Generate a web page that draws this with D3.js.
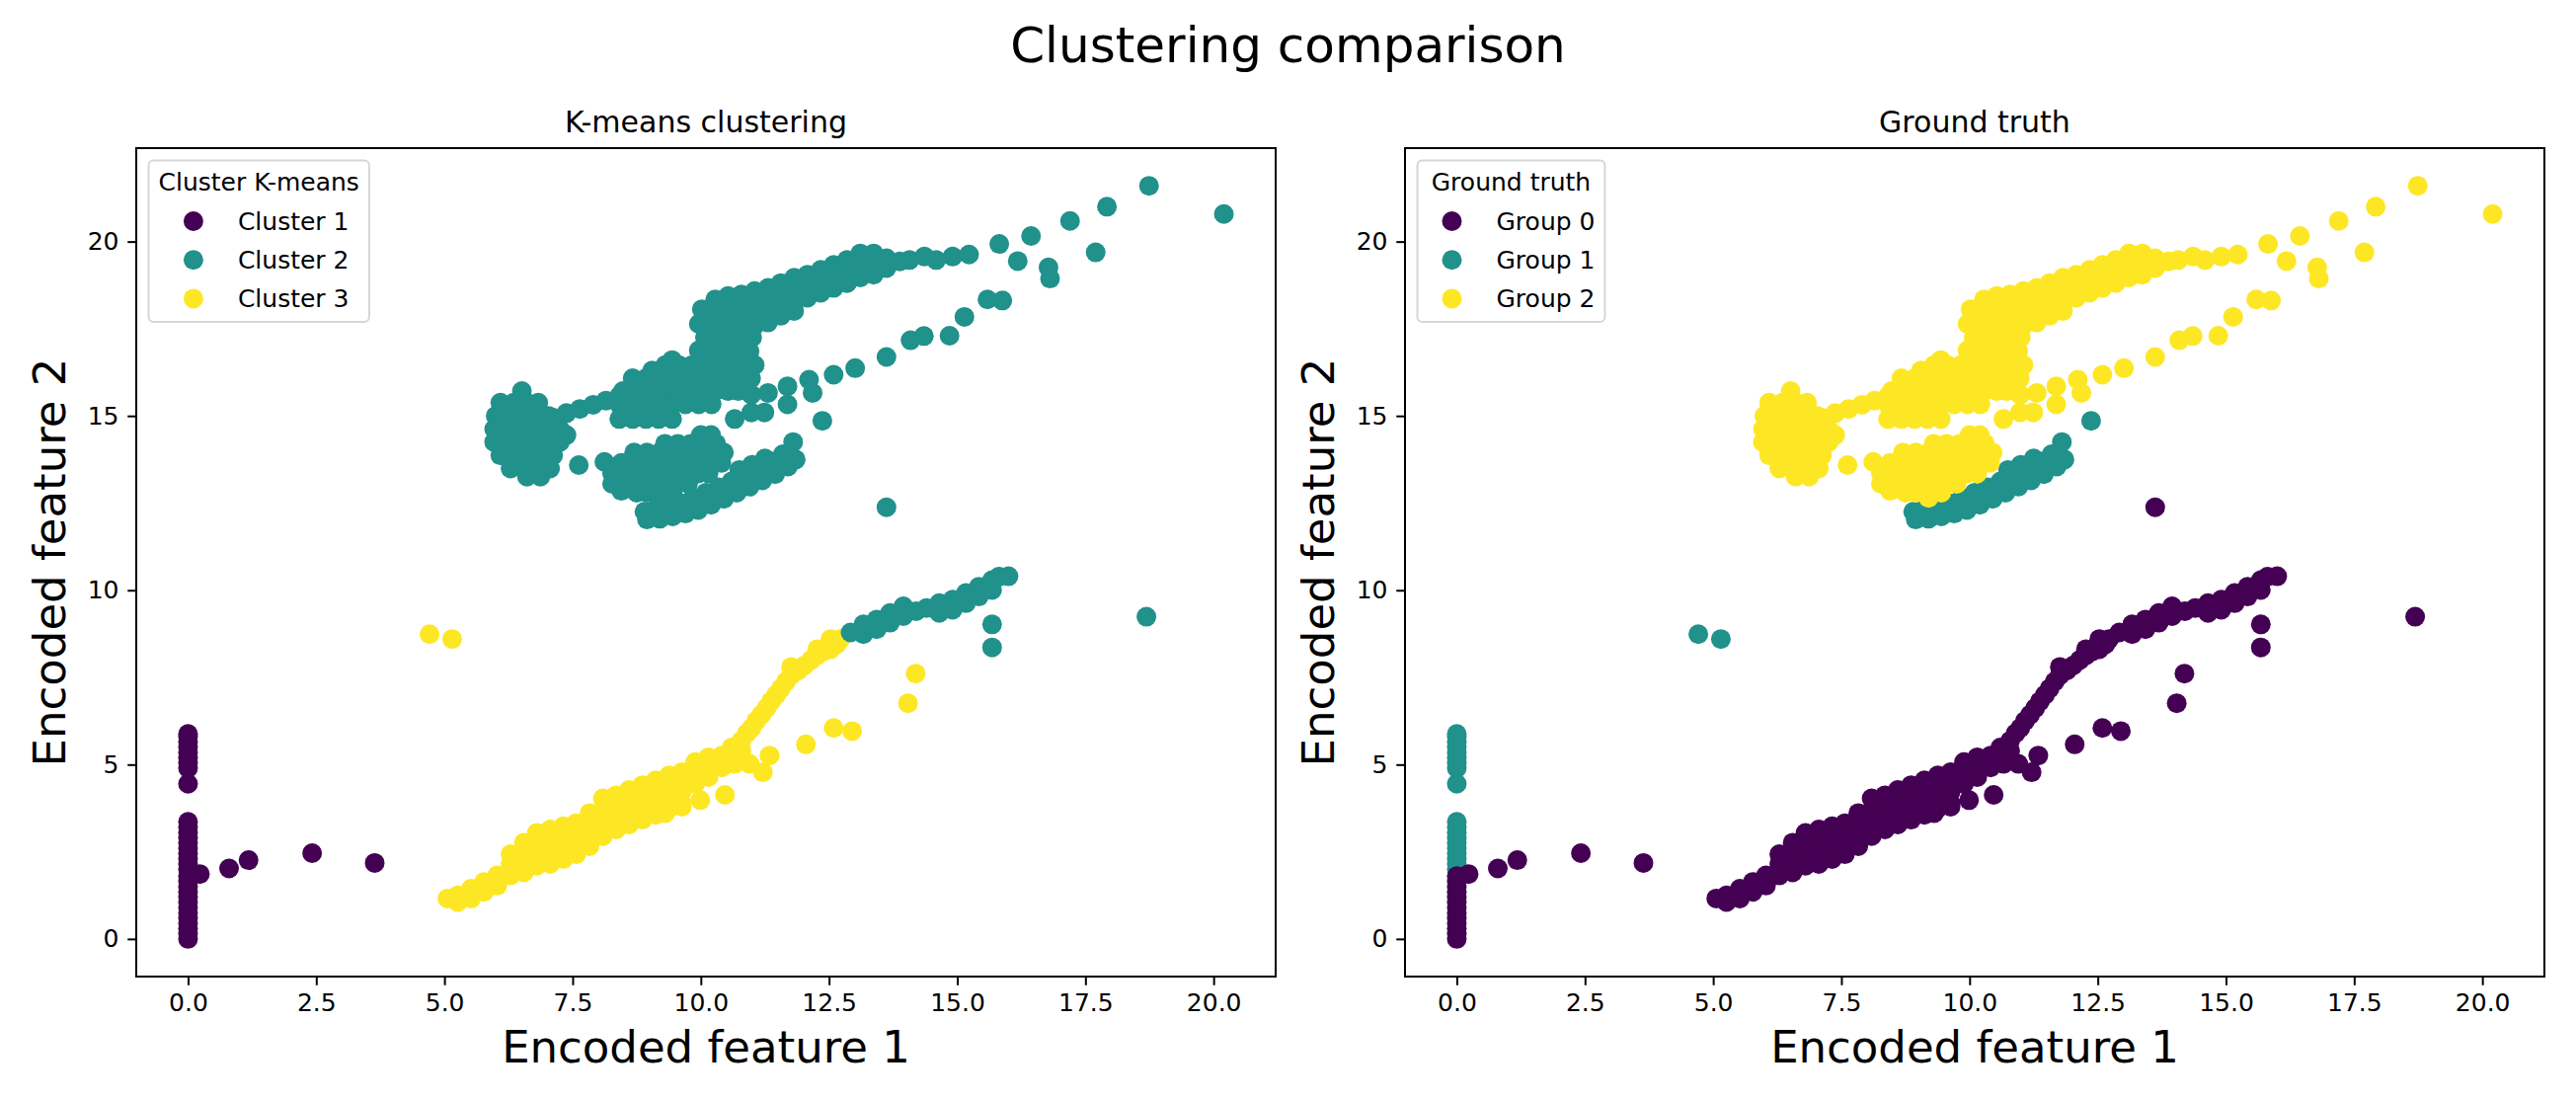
<!DOCTYPE html>
<html>
<head>
<meta charset="utf-8">
<script src="https://cdn.jsdelivr.net/npm/d3@7"></script>
<style>
  body { margin: 0; background: #fff; }
  svg { display: block; font-family: "DejaVu Sans", sans-serif; }
</style>
</head>
<body>
<svg id="chart" width="2609" height="1114"></svg>
<script>
// ---- data: [encoded feature 1, encoded feature 2] ----

// vertical column at x = 0
var columnUpper = [[0,4.45],[0,4.9],[0,5.05],[0,5.2],[0,5.35],[0,5.5],[0,5.65],[0,5.8],[0,5.88]];
var columnMid = [[0,2.0],[0,2.15],[0,2.3],[0,2.45],[0,2.6],[0,2.75],[0,2.9],[0,3.05],[0,3.2],[0,3.36]];
var columnLow = [[0,0.0],[0,0.15],[0,0.3],[0,0.45],[0,0.6],[0,0.75],[0,0.9],[0,1.05],[0,1.2],[0,1.35],[0,1.5],[0,1.65],[0,1.8]];
var originTrail = [[0.23,1.86],[0.8,2.02],[1.18,2.26],[2.42,2.46],[3.64,2.18]];
var farPair = [[4.71,8.74],[5.15,8.6]];

// lower diagonal band
var lowerBandYellow = [
  [5.06,1.16],[5.26,1.06],[5.26,1.25],[5.52,1.16],[5.52,1.44],[5.77,1.35],[5.77,1.63],[6.03,1.53],[6.03,1.82],
  [6.29,1.82],[6.29,2.15],[6.29,2.43],
  [6.55,1.91],[6.55,2.24],[6.55,2.57],[6.55,2.76],
  [6.80,2.10],[6.80,2.43],[6.80,2.76],[6.80,3.04],
  [7.06,2.15],[7.06,2.48],[7.06,2.81],[7.06,3.14],
  [7.32,2.29],[7.32,2.62],[7.32,2.95],[7.32,3.23],
  [7.57,2.43],[7.57,2.76],[7.57,3.04],[7.57,3.32],
  [7.83,2.66],[7.83,2.99],[7.83,3.30],[7.83,3.61],
  [8.09,2.95],[8.09,3.32],[8.09,3.70],[8.09,4.03],
  [8.35,3.14],[8.35,3.47],[8.35,3.80],[8.35,4.12],
  [8.60,3.28],[8.60,3.61],[8.60,3.94],[8.60,4.27],
  [8.86,3.42],[8.86,3.75],[8.86,4.08],[8.86,4.41],
  [9.12,3.56],[9.12,3.89],[9.12,4.22],[9.12,4.55],
  [9.38,3.75],[9.38,4.08],[9.38,4.41],[9.38,4.69],
  [9.63,3.89],[9.63,4.22],[9.63,4.50],[9.63,4.78],
  [9.89,4.45],[9.89,4.78],[9.89,5.07],
  [10.15,4.64],[10.15,4.97],[10.15,5.21],
  [10.41,4.92],[10.41,5.26],[10.60,5.21],[10.60,5.49],[10.79,5.40],[10.79,5.68],[10.90,5.90],
  [10.99,6.05],[11.08,6.25],[11.18,6.43],[11.28,6.62],[11.37,6.81],[11.47,7.0],[11.56,7.18],
  [11.66,7.38],[11.76,7.56],[11.76,7.80],[11.90,7.70],[12.02,7.84],[12.15,8.0],[12.27,8.13],
  [12.27,8.31],[12.40,8.25],[12.53,8.31],[12.53,8.60],[12.65,8.45],[12.72,8.60]
];
var lowerBandStrays = [
  [9.31,3.61],[9.63,3.79],[9.99,3.98],[10.47,4.13],[10.66,5.02],[10.95,5.02],[11.21,4.78],
  [11.34,5.26],[12.05,5.58],[12.59,6.05],[12.95,5.96],[14.04,6.76],[14.19,7.61]
];
var lowerBandTeal = [
  [12.92,8.79],[13.17,9.02],[13.17,8.74],[13.43,9.16],[13.43,8.88],[13.69,9.35],[13.69,9.07],
  [13.95,9.54],[13.95,9.26],[14.20,9.40],[14.40,9.49],[14.65,9.63],[14.65,9.35],[14.91,9.73],
  [14.91,9.44],[15.17,9.92],[15.17,9.63],[15.42,10.10],[15.42,9.82],[15.68,10.29],[15.68,10.01],
  [15.81,10.39],[16.0,10.4],[15.68,9.02],[15.68,8.36],[18.69,9.24]
];
var loneOutlier = [[13.62,12.38]];

// upper structure
var upperStrip = [
  [8.95,12.03],[9.2,12.05],[9.45,12.12],[9.7,12.2],[9.95,12.3],[10.2,12.45],[10.45,12.62],
  [10.7,12.8],[10.95,12.97],[11.2,13.15],[11.45,13.33],[11.7,13.55],[11.85,13.75],
  [8.9,12.25],[9.1,12.3],[9.35,12.4],[9.6,12.5],[9.85,12.65],[10.1,12.8],[10.35,12.95],
  [10.6,13.12],[10.85,13.3],[11.1,13.5],[11.35,13.7],[11.6,13.9],[11.8,14.25],
  [10.75,13.45],[11.0,13.6],[11.25,13.78],[12.37,14.86]
];
var lowerBlob = [
  [7.62,13.59],[8.12,13.68],
  [10.0,14.45],[10.2,14.45],
  [9.3,14.2],[9.55,14.2],[9.8,14.2],[10.05,14.2],[10.3,14.2],
  [8.7,13.95],[8.95,13.95],[9.2,13.95],[9.45,13.95],[9.7,13.95],[9.95,13.95],[10.2,13.95],[10.45,13.95],
  [8.45,13.65],[8.7,13.65],[8.95,13.65],[9.2,13.65],[9.45,13.65],[9.7,13.65],[9.95,13.65],[10.2,13.65],[10.4,13.65],
  [8.27,13.35],[8.45,13.35],[8.7,13.35],[8.95,13.35],[9.2,13.35],[9.45,13.35],[9.7,13.35],[9.95,13.35],[10.15,13.35],
  [8.27,13.05],[8.5,13.05],[8.75,13.05],[9.0,13.05],[9.25,13.05],[9.5,13.05],[9.75,13.05],
  [8.45,12.85],[8.75,12.8],[8.95,12.8],[9.2,12.8],[9.45,12.8],[9.2,12.65]
];
var leftBlob = [
  [6.51,15.71],
  [6.09,15.38],[6.35,15.38],[6.61,15.38],[6.83,15.38],
  [6.00,15.0],[6.26,15.0],[6.51,15.0],[6.77,15.0],[7.03,15.0],
  [5.97,14.62],[6.22,14.62],[6.48,14.62],[6.74,14.62],[7.00,14.62],[7.25,14.62],
  [5.97,14.25],[6.22,14.25],[6.48,14.25],[6.74,14.25],[7.00,14.25],[7.25,14.25],[7.38,14.45],
  [6.09,13.87],[6.35,13.87],[6.61,13.87],[6.87,13.87],[7.12,13.87],
  [6.29,13.49],[6.54,13.49],[6.80,13.49],[7.06,13.49],
  [6.61,13.26],[6.87,13.26]
];
var arm = [[7.12,14.95],[7.38,15.08],[7.64,15.20],[7.90,15.32],[8.15,15.44],[8.41,15.57]];
var midBlob = [
  [9.44,16.6],[9.05,16.3],
  [9.31,16.46],[9.57,16.46],[9.83,16.46],[10.08,16.46],[10.34,16.46],[10.60,16.46],[10.86,16.46],[11.05,16.46],
  [8.67,16.08],[8.93,16.08],[9.18,16.08],[9.44,16.08],[9.70,16.08],[9.96,16.08],[10.21,16.08],[10.47,16.08],[10.73,16.08],[10.98,16.08],
  [8.48,15.71],[8.73,15.71],[8.99,15.71],[9.25,15.71],[9.50,15.71],[9.76,15.71],[10.02,15.71],[10.28,15.71],[10.53,15.71],[10.73,15.71],
  [8.41,15.33],[8.67,15.33],[8.93,15.33],[9.18,15.33],[9.44,15.33],[9.70,15.33],[9.96,15.33],[10.21,15.33],
  [8.41,14.91],[8.67,14.91],[8.93,14.91],[9.18,14.91],[9.44,14.91]
];
var neck = [
  [9.96,16.88],[10.21,16.88],[10.47,16.88],[10.73,16.88],[10.95,16.85],
  [10.08,17.26],[10.34,17.26],[10.60,17.26],[10.86,17.26],[11.0,17.25],
  [9.96,17.64],[10.21,17.64],[10.47,17.64],[10.73,17.64],[10.98,17.64]
];
var upperBand = [
  [10.02,18.06],[10.02,17.73],
  [10.28,18.34],[10.28,18.01],[10.28,17.68],[10.28,17.35],
  [10.53,18.44],[10.53,18.11],[10.53,17.78],[10.53,17.45],
  [10.79,18.48],[10.79,18.15],[10.79,17.82],[10.79,17.50],
  [11.05,18.58],[11.05,18.25],[11.05,17.92],[11.05,17.59],
  [11.31,18.67],[11.31,18.34],[11.31,18.01],[11.31,17.68],
  [11.56,18.81],[11.56,18.48],[11.56,18.16],[11.56,17.87],
  [11.82,18.96],[11.82,18.63],[11.82,18.30],[11.82,18.01],
  [12.08,19.05],[12.08,18.72],[12.08,18.39],
  [12.34,19.19],[12.34,18.86],[12.34,18.53],
  [12.59,19.33],[12.59,19.00],[12.59,18.67],
  [12.85,19.47],[12.85,19.14],[12.85,18.81],
  [13.11,19.66],[13.11,19.33],[13.11,18.97],
  [13.37,19.66],[13.37,19.33],[13.37,19.05],
  [13.62,19.52],[13.62,19.24],
  [13.88,19.43],[14.07,19.47],[14.36,19.57],[14.59,19.47],[14.91,19.57],[15.23,19.63]
];
var dottedTrail = [
  [10.66,14.91],[10.985,15.10],[11.24,15.10],[10.985,15.61],[11.31,15.66],[11.69,15.85],[11.69,15.33],
  [12.11,16.04],[12.18,15.66],[12.59,16.18],[13.01,16.37],[13.62,16.69],[14.09,17.17],[14.35,17.29],
  [14.85,17.30],[15.14,17.84],[15.59,18.34],[15.88,18.31],
  [15.82,19.93],[16.18,19.44],[16.44,20.16],[16.78,19.26],[16.81,18.94],[17.20,20.59],
  [17.70,19.69],[17.92,21.0],[18.74,21.6],[20.2,20.79]
];

// labels of each piece: k-means cluster index and ground-truth group index
var pieces = [
  {pts: columnUpper, kmeans: 0, truth: 1},
  {pts: columnMid, kmeans: 0, truth: 1},
  {pts: columnLow, kmeans: 0, truth: 0},
  {pts: originTrail, kmeans: 0, truth: 0},
  {pts: farPair, kmeans: 2, truth: 1},
  {pts: lowerBandYellow, kmeans: 2, truth: 0},
  {pts: lowerBandStrays, kmeans: 2, truth: 0},
  {pts: lowerBandTeal, kmeans: 1, truth: 0},
  {pts: loneOutlier, kmeans: 1, truth: 0},
  {pts: upperStrip, kmeans: 1, truth: 1},
  {pts: lowerBlob, kmeans: 1, truth: 2},
  {pts: leftBlob, kmeans: 1, truth: 2},
  {pts: arm, kmeans: 1, truth: 2},
  {pts: midBlob, kmeans: 1, truth: 2},
  {pts: neck, kmeans: 1, truth: 2},
  {pts: upperBand, kmeans: 1, truth: 2},
  {pts: dottedTrail, kmeans: 1, truth: 2}
];

var kmeansNames = ["Cluster 1", "Cluster 2", "Cluster 3"];
var truthNames = ["Group 0", "Group 1", "Group 2"];
var xTicks = [0, 2.5, 5, 7.5, 10, 12.5, 15, 17.5, 20];
var yTicks = [0, 5, 10, 15, 20];
var colors = ["#440154", "#21918c", "#fde725"];

// ---- layout ----
var svg = d3.select("#chart");
var plotTop = 150, plotW = 1154, plotH = 839;
var font = "DejaVu Sans";

var points = [];
pieces.forEach(function (p) {
  p.pts.forEach(function (d) {
    points.push({x: d[0], y: d[1], kmeans: p.kmeans, truth: p.truth});
  });
});

// matplotlib style 5% margins
function padded(ext) {
  var m = (ext[1] - ext[0]) * 0.05;
  return [ext[0] - m, ext[1] + m];
}
var xDomain = padded(d3.extent(points, function (d) { return d.x; }));
var yDomain = padded(d3.extent(points, function (d) { return d.y; }));

svg.append("rect").attr("width", 2609).attr("height", 1114).attr("fill", "#fff");

svg.append("text")
  .attr("x", 1304.5).attr("y", 63)
  .attr("text-anchor", "middle")
  .attr("font-family", font).attr("font-size", 50)
  .text("Clustering comparison");

function drawPanel(left, key, title, legendTitle, names) {
  var g = svg.append("g").attr("transform", "translate(" + left + "," + plotTop + ")");
  var x = d3.scaleLinear().domain(xDomain).range([0, plotW]);
  var y = d3.scaleLinear().domain(yDomain).range([plotH, 0]);

  g.append("g").selectAll("circle")
    .data(points)
    .join("circle")
    .attr("cx", function (d) { return x(d.x); })
    .attr("cy", function (d) { return y(d.y); })
    .attr("r", 10)
    .attr("fill", function (d) { return colors[d[key]]; });

  var xAxis = d3.axisBottom(x).tickValues(xTicks).tickFormat(d3.format(".1f"))
    .tickSize(8.75).tickPadding(8.75);
  var yAxis = d3.axisLeft(y).tickValues(yTicks).tickFormat(d3.format("d"))
    .tickSize(8.75).tickPadding(8.75);

  function style(s) {
    s.attr("font-family", font).attr("font-size", 25);
    s.select(".domain").remove();
    s.selectAll(".tick line").attr("stroke", "#000").attr("stroke-width", 2);
    s.selectAll(".tick text").attr("fill", "#000");
  }
  g.append("g").attr("transform", "translate(0," + plotH + ")").call(xAxis).call(style);
  g.append("g").call(yAxis).call(style);

  g.append("rect")
    .attr("width", plotW).attr("height", plotH)
    .attr("fill", "none").attr("stroke", "#000").attr("stroke-width", 2);

  g.append("text")
    .attr("x", plotW / 2).attr("y", -16)
    .attr("text-anchor", "middle")
    .attr("font-family", font).attr("font-size", 30)
    .text(title);

  g.append("text")
    .attr("x", plotW / 2).attr("y", 1076 - plotTop)
    .attr("text-anchor", "middle")
    .attr("font-family", font).attr("font-size", 45)
    .text("Encoded feature 1");

  g.append("text")
    .attr("transform", "translate(" + (66 - 138) + "," + (plotH / 2) + ") rotate(-90)")
    .attr("text-anchor", "middle")
    .attr("font-family", font).attr("font-size", 45)
    .text("Encoded feature 2");

  // legend
  var lg = g.append("g").attr("transform", "translate(12.5,12.5)");
  var frame = lg.append("rect")
    .attr("rx", 5).attr("ry", 5)
    .attr("fill", "#fff").attr("fill-opacity", 0.8)
    .attr("stroke", "#d6d6d6").attr("stroke-width", 2);
  var tt = lg.append("text")
    .attr("y", 30.8)
    .attr("font-family", font).attr("font-size", 25)
    .text(legendTitle);
  var rows = lg.selectAll("g.entry")
    .data(names)
    .join("g")
    .attr("class", "entry");
  rows.append("circle").attr("cx", 25).attr("r", 10)
    .attr("fill", function (d, i) { return colors[i]; });
  var labels = rows.append("text").attr("x", 70).attr("y", 8.5)
    .attr("font-family", font).attr("font-size", 25)
    .text(function (d) { return d; });

  var titleW = tt.node().getComputedTextLength();
  var labelW = d3.max(labels.nodes(), function (n) { return n.getComputedTextLength(); });
  var entryW = 70 + labelW;
  var contentW = Math.max(titleW, entryW);
  tt.attr("x", 10 + (contentW - titleW) / 2);
  rows.attr("transform", function (d, i) {
    return "translate(" + (10 + (contentW - entryW) / 2) + "," + (61.5 + i * 39.2) + ")";
  });
  frame.attr("width", contentW + 20).attr("height", 163.5);
}

drawPanel(138, "kmeans", "K-means clustering", "Cluster K-means", kmeansNames);
drawPanel(1423, "truth", "Ground truth", "Ground truth", truthNames);
</script>
</body>
</html>
